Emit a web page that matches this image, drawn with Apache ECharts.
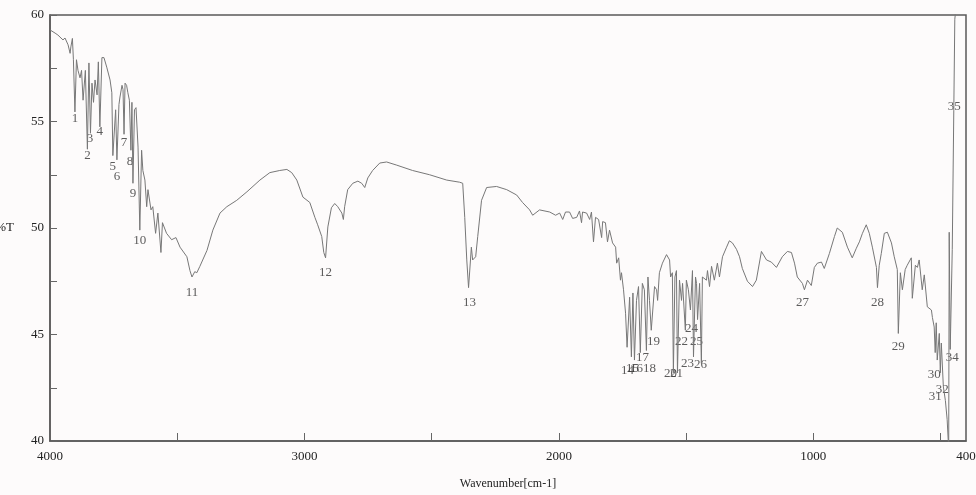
<!DOCTYPE html>
<html>
<head>
<meta charset="utf-8">
<script src="https://cdn.jsdelivr.net/npm/echarts@6/dist/echarts.min.js"></script>
<style>
html,body{margin:0;padding:0;background:#fdfbfb;}
#chart{width:976px;height:495px;}
</style>
</head>
<body>
<div id="chart"></div>
<script>
// Spectrum: wavenumber (cm-1) and transmittance (%T)
var wavenumbers = [4000,3980,3969,3949,3941,3929,3921,3918,3912,3908,3902,3896,3890,3882,3876,3870,3861,3853,3847,3841,3835,3829,3823,3815,3810,3804,3796,3788,3777,3764,3757,3753,3742,3737,3729,3725,3717,3713,3709,3705,3699,3694,3688,3682,3678,3674,3668,3662,3654,3647,3640,3635,3627,3620,3615,3603,3596,3585,3576,3564,3558,3542,3522,3505,3489,3462,3450,3442,3431,3423,3411,3383,3360,3332,3305,3266,3226,3175,3136,3097,3069,3050,3030,3006,2979,2959,2948,2932,2924,2917,2908,2894,2881,2869,2853,2847,2842,2830,2810,2790,2775,2763,2751,2732,2704,2677,2637,2575,2508,2441,2390,2378,2370,2362,2355,2344,2339,2327,2319,2304,2284,2245,2205,2166,2143,2115,2103,2076,2036,2013,1997,1985,1974,1958,1946,1930,1919,1911,1907,1891,1879,1872,1864,1856,1844,1832,1828,1817,1809,1801,1789,1777,1773,1765,1758,1754,1746,1738,1732,1722,1715,1709,1703,1695,1687,1680,1672,1664,1656,1650,1644,1637,1624,1616,1612,1605,1593,1577,1565,1561,1554,1550,1544,1538,1534,1526,1518,1514,1503,1499,1491,1483,1475,1471,1463,1459,1455,1447,1440,1436,1420,1416,1408,1400,1389,1377,1369,1357,1341,1330,1318,1302,1290,1279,1259,1239,1224,1204,1184,1165,1145,1122,1102,1086,1074,1063,1043,1035,1023,1008,996,984,968,957,937,917,906,886,866,847,831,819,807,792,780,768,752,748,741,733,721,709,693,682,670,666,658,650,639,631,615,611,599,591,584,572,564,552,536,532,525,521,517,513,505,501,497,489,481,474,470,468,466,462,454,448,444,438,403,400];
var transmittance = [59.3,59.15,59.06,58.83,58.92,58.6,58.2,58.5,58.9,57.9,55.45,57.9,57.4,57.05,57.4,56.0,57.4,53.7,57.75,54.45,56.8,55.9,56.95,56.25,57.8,54.75,58.0,58.0,57.55,56.95,56.35,53.4,55.55,53.2,55.8,56.15,56.7,56.5,54.4,56.8,56.7,56.35,56.0,53.65,55.9,52.1,55.55,55.65,53.8,49.9,53.65,52.7,52.25,51.0,51.8,50.85,51.0,49.75,50.7,48.85,50.25,49.75,49.45,49.55,49.1,48.65,48.0,47.7,47.95,47.9,48.2,48.95,49.9,50.7,51.0,51.3,51.7,52.25,52.6,52.7,52.75,52.6,52.25,51.45,51.2,50.5,50.15,49.6,48.85,48.6,50.05,50.95,51.15,51.0,50.7,50.4,51.0,51.8,52.1,52.2,52.1,51.9,52.35,52.7,53.05,53.1,52.95,52.7,52.5,52.25,52.15,52.1,50.5,48.5,47.2,49.1,48.5,48.65,49.6,51.3,51.9,51.95,51.8,51.55,51.2,50.85,50.6,50.85,50.75,50.6,50.7,50.4,50.75,50.75,50.45,50.5,50.8,50.25,50.75,50.7,50.4,50.75,49.35,50.5,50.4,49.55,50.3,50.25,49.35,49.9,49.3,49.1,48.35,48.6,47.55,47.9,47.1,46.0,44.4,46.75,43.95,46.95,43.8,46.6,47.25,44.15,47.4,47.1,44.25,47.7,46.6,45.2,47.25,47.1,46.6,47.9,48.35,48.75,48.5,47.7,47.9,43.2,47.7,48.0,43.2,47.55,46.6,47.4,45.2,47.55,47.1,46.15,48.0,43.95,47.7,47.4,45.7,47.4,43.65,47.7,47.55,48.0,47.25,48.2,47.55,48.35,47.7,48.65,49.1,49.4,49.3,49.0,48.65,48.1,47.5,47.25,47.55,48.9,48.5,48.4,48.15,48.65,48.9,48.85,48.35,47.7,47.4,47.1,47.55,47.3,48.15,48.35,48.4,48.1,48.8,49.6,50.0,49.8,49.1,48.6,49.05,49.35,49.75,50.15,49.75,49.1,48.15,47.2,48.25,48.8,49.75,49.8,49.3,48.65,48.05,45.05,47.9,47.1,48.05,48.25,48.6,46.7,48.25,48.15,48.5,47.1,47.8,46.3,46.15,45.8,45.35,44.15,45.55,43.8,45.05,43.2,44.6,42.55,41.9,41.0,40.05,39.8,49.8,44.3,49.0,55.5,59.8,60.5,60.5,60.5];

// Peak annotations: number, wavenumber, %T at the label
var peakNumbers = ['1','2','3','4','5','6','7','8','9','10','11','12','13','14','15','16','17','18','19','20','21','22','23','24','25','26','27','28','29','30','31','32','34','35'];
var peakWn = [3902,3853,3843,3804,3753,3737,3709,3686,3674,3647,3442,2917,2351,1730,1711,1695,1671,1644,1628,1561,1538,1518,1495,1479,1459,1443,1043,748,666,525,521,493,454,446];
var peakLabelT = [55.16,53.4,54.2,54.55,52.9,52.4,54.0,53.1,51.6,49.4,46.95,47.9,46.5,43.3,43.4,43.4,43.9,43.4,44.65,43.15,43.15,44.65,43.65,45.3,44.65,43.6,46.5,46.5,44.45,43.1,42.1,42.4,43.9,55.7];

// Axis tick labels
var xTickLabels = [4000,3000,2000,1000,400];
var xTickMarks = [3500,3000,2500,2000,1500,1000,500];
var yTickLabels = [40,45,50,55,60];

var spectrum = wavenumbers.map(function(w,i){return [w, transmittance[i]];});
var peaks = peakWn.map(function(w,i){return [w, peakLabelT[i], peakNumbers[i]];});

var serif = '"Liberation Serif", "DejaVu Serif", serif';
var chart = echarts.init(document.getElementById('chart'));
chart.setOption({
  animation: false,
  backgroundColor: '#fdfbfb',
  grid: {left: 50, right: 10, top: 15, bottom: 54, outerBoundsMode: 'none', containLabel: false,
    show: true, borderColor: '#5a5a5a', borderWidth: 1.5, backgroundColor: 'transparent'},
  xAxis: {
    type: 'value', inverse: true, min: 400, max: 4000,
    name: 'Wavenumber[cm-1]', nameLocation: 'middle', nameGap: 37,
    nameTextStyle: {fontFamily: serif, fontSize: 12, color: '#222'},
    axisLine: {show: true, lineStyle: {color: '#5a5a5a', width: 1.5}},
    axisTick: {show: true, inside: true, length: 8, customValues: xTickMarks, lineStyle: {color: '#666'}},
    axisLabel: {show: true, customValues: xTickLabels, margin: 9, fontFamily: serif, fontSize: 13, color: '#222',
      formatter: function(v){ return String(v); }},
    splitLine: {show: false}
  },
  yAxis: {
    type: 'value', min: 40, max: 60, interval: 2.5,
    name: '%T', nameLocation: 'middle', nameRotate: 0, nameGap: 36,
    nameTextStyle: {fontFamily: serif, fontSize: 13, color: '#222'},
    axisLine: {show: true, lineStyle: {color: '#5a5a5a', width: 1.5}},
    axisTick: {show: true, inside: true, length: 7, lineStyle: {color: '#666'}},
    axisLabel: {show: true, margin: 6, fontFamily: serif, fontSize: 13, color: '#222',
      formatter: function(v){ return yTickLabels.indexOf(v) >= 0 ? String(v) : ''; }},
    splitLine: {show: false}
  },
  series: [
    {
      type: 'line', data: spectrum, showSymbol: false, symbol: 'none',
      lineStyle: {color: '#777777', width: 1}, clip: true, silent: true
    },
    {
      type: 'scatter', data: peaks, symbolSize: 1, silent: true,
      itemStyle: {color: 'rgba(0,0,0,0)'},
      label: {show: true, position: 'inside', fontFamily: serif, fontSize: 13, color: '#333',
        formatter: function(p){ return p.value[2]; }}
    }
  ]
});
</script>
</body>
</html>
